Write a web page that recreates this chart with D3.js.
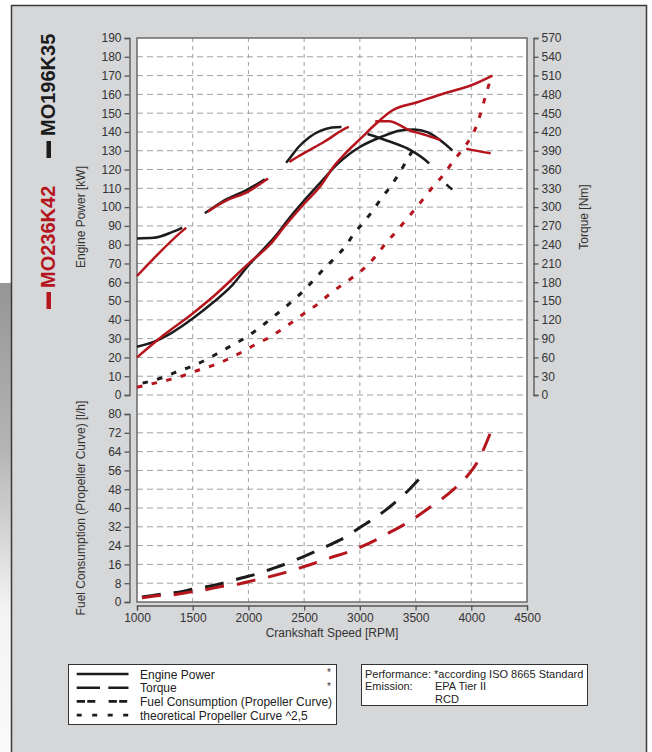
<!DOCTYPE html>
<html>
<head>
<meta charset="utf-8">
<script src="https://cdn.jsdelivr.net/npm/d3@7"></script>
<style>
    body { margin: 0; background: #fff; }
    text { font-family: "Liberation Sans", Arial, sans-serif; }
</style>
</head>
<body>
<script>
//engine performance chart, two engines (black MO196K35, red MO236K42)

//shared crankshaft speed axis
var rpmTicks = [1000, 1500, 2000, 2500, 3000, 3500, 4000, 4500];
var powerTicks = d3.range(0, 191, 10);     //kW
var torqueTicks = d3.range(0, 571, 30);    //Nm
var fuelTicks = d3.range(0, 81, 8);        //l/h

//MO196K35 (black) - engine power [kW]
var blackPowerRpm = [1000, 1150, 1300, 1500, 1690, 1840, 2000, 2140, 2260, 2350, 2500, 2650, 2800, 2900, 3000, 3190, 3365, 3485, 3605, 3725, 3830];
var blackPowerKw  = [25.7, 28.3, 32.7, 40.7, 49.6, 57.5, 69, 77.9, 85.8, 92.9, 103.5, 113.3, 123, 128, 132, 137.3, 140.8, 141.3, 139.9, 135.5, 130.2];

//MO236K42 (red) - engine power [kW]
var redPowerRpm = [1000, 1240, 1500, 1690, 2000, 2200, 2320, 2500, 2650, 2770, 2860, 3006, 3156, 3290, 3515, 3784, 3994, 4190];
var redPowerKw  = [20, 31.9, 43.4, 52.7, 69.9, 80.5, 89.4, 101.8, 111.5, 122, 128, 136.4, 145, 151.4, 155.8, 161, 164.7, 170];

//torque [Nm]
var blackTorqueRpm = [1000, 1150, 1314, 1404, 1614, 1809, 1990, 2170, 2344, 2450, 2550, 2650, 2750, 2830, 2900, 3081, 3246, 3455, 3620, 3700, 3784, 3830];
var blackTorqueNm  = [250, 251, 260, 267, 291, 313, 328, 347, 372, 396, 412, 422, 427, 428, 426, 416, 406, 391, 370, 354, 335, 328];
var redTorqueRpm = [1000, 1434, 1629, 1809, 1990, 2170, 2374, 2467, 2677, 2901, 3050, 3156, 3260, 3455, 3575, 3725, 3850, 3964, 4174];
var redTorqueNm  = [190, 266, 292, 311, 324, 345, 373, 383, 404, 428, 434, 437, 437, 422, 416, 407, 399, 393, 386];

//theoretical propeller curve ^2,5 [kW]
var blackPropRpm = [1050, 1224, 1359, 1479, 1614, 1734, 1839, 1959, 2080, 2185, 2290, 2395, 2500, 2590, 2680, 2785, 2875, 2946, 3036, 3120, 3200, 3275, 3356, 3425, 3509];
var blackPropKw  = [6.3, 9.2, 12.4, 15, 18.6, 22.5, 26, 30, 34.9, 39.8, 44.8, 50, 55.8, 61.4, 67.3, 73.5, 79.5, 85.8, 92, 98.5, 105.2, 111, 118.3, 125.3, 133.7];
var redPropRpm = [1000, 1150, 1300, 1420, 1554, 1689, 1809, 1930, 2050, 2170, 2290, 2395, 2500, 2620, 2725, 2830, 2940, 3051, 3141, 3225, 3314, 3404, 3494, 3581, 3665, 3749, 3829, 3919, 3994, 4054, 4093, 4129, 4183];
var redPropKw  = [4.1, 6.2, 8.3, 10.4, 13.3, 15.9, 18.9, 22.5, 26.5, 30.1, 34.5, 38.9, 43.4, 48.3, 53.5, 58.2, 62.8, 68.1, 73.8, 80.2, 86.2, 92.4, 98.8, 105.2, 111.5, 117, 123.7, 130.5, 136.9, 144.3, 151.8, 159.4, 170];

//fuel consumption (propeller curve) [l/h]
var blackFuelRpm = [1044, 1239, 1374, 1524, 1659, 1809, 1944, 2080, 2215, 2356, 2485, 2620, 2740, 2884, 3000, 3126, 3231, 3350, 3446, 3551];
var blackFuelLh  = [2.1, 3.5, 4.2, 5.7, 6.8, 8.5, 10.3, 12, 14.2, 16.6, 19.1, 21.9, 24.5, 28, 31.7, 35.5, 39.1, 43.8, 48, 53.3];
var redFuelRpm = [1044, 1209, 1329, 1479, 1614, 1764, 1899, 2050, 2176, 2326, 2455, 2605, 2731, 2880, 3000, 3141, 3260, 3389, 3506, 3635, 3740, 3859, 3958, 4048, 4108, 4168];
var redFuelLh  = [1.8, 2.8, 3.1, 4.2, 5.2, 6.7, 7.5, 9.2, 10.6, 12.5, 14.4, 16.7, 18.8, 21, 23.2, 26.3, 29.4, 32.7, 36.2, 40.5, 44, 48.7, 53.3, 59, 64.7, 71.5];

//engine names and legend texts
var engineNames = ["MO196K35", "MO236K42"];
var legendLabels = ["Engine Power", "Torque", "Fuel Consumption (Propeller Curve)", "theoretical Propeller Curve ^2,5"];
var noteLines = ["Performance: *according ISO 8665 Standard", "Emission:", "EPA Tier II", "RCD"];

window.onload = function(){

    var w = 652, h = 752;
    var black = "#1c1c1c", red = "#b5161e";

    var svg = d3.select("body")
        .append("svg")
        .attr("width", w)
        .attr("height", h);

    //grey photo strip on the far left
    var grad = svg.append("defs").append("linearGradient")
        .attr("id", "strip")
        .attr("x1", 0).attr("y1", 0).attr("x2", 0).attr("y2", 1);
    grad.append("stop").attr("offset", 0).attr("stop-color", "#969696");
    grad.append("stop").attr("offset", 0.35).attr("stop-color", "#b4b4b4");
    grad.append("stop").attr("offset", 0.55).attr("stop-color", "#d8d8d8");
    grad.append("stop").attr("offset", 0.7).attr("stop-color", "#f4f4f4");
    grad.append("stop").attr("offset", 1).attr("stop-color", "#fafafa");
    svg.append("rect")
        .attr("x", 0).attr("y", 283)
        .attr("width", 12).attr("height", h - 283)
        .style("fill", "url(#strip)");

    //grey panel
    svg.append("rect")
        .attr("x", 11.5).attr("y", 5.5)
        .attr("width", 635).attr("height", 770)
        .style("fill", "#d6d7d9")
        .style("stroke", "#3a3a3a")
        .style("stroke-width", 1.5);

    //scales
    var x = d3.scaleLinear().domain([1000, 4500]).range([137, 527]);
    var yP = d3.scaleLinear().domain([0, 190]).range([395, 38]);
    var yT = d3.scaleLinear().domain([0, 570]).range([395, 38]);
    var yF = d3.scaleLinear().domain([0, 80]).range([602, 414]);

    //white plot area
    svg.append("rect")
        .attr("x", x(1000)).attr("y", yP(190))
        .attr("width", x(4500) - x(1000))
        .attr("height", yF(0) - yP(190))
        .style("fill", "#fff");

    //grid lines
    var grid = svg.append("g").attr("class", "grid")
        .style("stroke", "#a0a0a0")
        .style("stroke-width", 1)
        .style("fill", "none");

    grid.selectAll(".vgrid")
        .data(rpmTicks.slice(1, -1))
        .enter()
        .append("line")
        .attr("x1", function(d){ return x(d); })
        .attr("x2", function(d){ return x(d); })
        .attr("y1", yP(190))
        .attr("y2", yF(0))
        .style("stroke-dasharray", "4 4");

    grid.selectAll(".pgrid")
        .data(powerTicks.slice(0, -1))
        .enter()
        .append("line")
        .attr("x1", x(1000)).attr("x2", x(4500))
        .attr("y1", function(d){ return yP(d); })
        .attr("y2", function(d){ return yP(d); })
        .style("stroke-dasharray", "6 4");

    grid.selectAll(".fgrid")
        .data(fuelTicks.slice(1))
        .enter()
        .append("line")
        .attr("x1", x(1000)).attr("x2", x(4500))
        .attr("y1", function(d){ return yF(d); })
        .attr("y2", function(d){ return yF(d); })
        .style("stroke-dasharray", "6 4");

    //plot frame
    svg.append("rect")
        .attr("x", x(1000)).attr("y", yP(190))
        .attr("width", x(4500) - x(1000))
        .attr("height", yF(0) - yP(190))
        .style("fill", "none")
        .style("stroke", "#6a6a6a")
        .style("stroke-width", 1.5);

    //curves
    var line = function(scale){
        return d3.line()
            .x(function(d){ return x(d[0]); })
            .y(function(d){ return scale(d[1]); })
            .curve(d3.curveMonotoneX);
    };

    var curves = [
        {rpm: blackPowerRpm, val: blackPowerKw, y: yP, color: black, dash: null, off: 0, sw: 2.5},
        {rpm: redPowerRpm, val: redPowerKw, y: yP, color: red, dash: null, off: 0, sw: 2.5},
        {rpm: blackTorqueRpm, val: blackTorqueNm, y: yT, color: black, dash: "69 27", off: 22, sw: 2.5},
        {rpm: redTorqueRpm, val: redTorqueNm, y: yT, color: red, dash: "69 27", off: 0, sw: 2.5},
        {rpm: blackPropRpm, val: blackPropKw, y: yP, color: black, dash: "5.5 9.5", off: 0, sw: 3},
        {rpm: redPropRpm, val: redPropKw, y: yP, color: red, dash: "5.5 9.5", off: 0, sw: 3},
        {rpm: blackFuelRpm, val: blackFuelLh, y: yF, color: black, dash: "19 13", off: 0, sw: 3},
        {rpm: redFuelRpm, val: redFuelLh, y: yF, color: red, dash: "19 13", off: 0, sw: 3}
    ];

    svg.selectAll(".curve")
        .data(curves)
        .enter()
        .append("path")
        .attr("class", "curve")
        .attr("d", function(d){ return line(d.y)(d3.zip(d.rpm, d.val)); })
        .style("fill", "none")
        .style("stroke", function(d){ return d.color; })
        .style("stroke-width", function(d){ return d.sw; })
        .style("stroke-dasharray", function(d){ return d.dash; })
        .style("stroke-dashoffset", function(d){ return d.off; });

    //axes
    var styleAxis = function(g){
        g.selectAll("path, line").style("stroke", "#555").style("stroke-width", 1.3);
        g.selectAll("text")
            .style("font-family", "'Liberation Sans', Arial, sans-serif")
            .style("font-size", "12px")
            .style("fill", "#333");
    };

    svg.append("g")
        .attr("transform", "translate(129.5,0)")
        .call(d3.axisLeft(yP).tickValues(powerTicks).tickSize(5).tickPadding(3))
        .call(styleAxis);

    svg.append("g")
        .attr("transform", "translate(129.5,0)")
        .call(d3.axisLeft(yF).tickValues(fuelTicks).tickSize(5).tickPadding(3))
        .call(styleAxis);

    svg.append("g")
        .attr("transform", "translate(533.5,0)")
        .call(d3.axisRight(yT).tickValues(torqueTicks).tickSize(5).tickPadding(3))
        .call(styleAxis);

    svg.append("g")
        .attr("transform", "translate(0,605.5)")
        .call(d3.axisBottom(x).tickValues(rpmTicks).tickSize(5).tickPadding(3).tickFormat(d3.format("d")))
        .call(styleAxis);

    //axis titles
    var titles = [
        {t: "Engine Power [kW]", x: 85, y: 217, r: -90},
        {t: "Torque [Nm]", x: 588, y: 217, r: -90},
        {t: "Fuel Consumption (Propeller Curve) [l/h]", x: 85, y: 508, r: -90},
        {t: "Crankshaft Speed [RPM]", x: 332, y: 637, r: 0}
    ];
    svg.selectAll(".axisTitle")
        .data(titles)
        .enter()
        .append("text")
        .attr("class", "axisTitle")
        .attr("transform", function(d){ return "translate(" + d.x + "," + d.y + ") rotate(" + d.r + ")"; })
        .attr("text-anchor", "middle")
        .style("font-size", "12px")
        .style("fill", "#333")
        .text(function(d){ return d.t; });

    //engine names, written upwards with a colour bar
    var names = [
        {t: engineNames[0], c: black, y: 136, bar: 141},
        {t: engineNames[1], c: red, y: 288, bar: 292}
    ];
    svg.selectAll(".nameBar")
        .data(names)
        .enter()
        .append("rect")
        .attr("x", 46.5).attr("width", 4.5)
        .attr("y", function(d){ return d.bar; })
        .attr("height", 17)
        .style("fill", function(d){ return d.c; });
    svg.selectAll(".name")
        .data(names)
        .enter()
        .append("text")
        .attr("transform", function(d){ return "translate(55," + d.y + ") rotate(-90)"; })
        .style("font-size", "20px")
        .style("font-weight", "bold")
        .style("fill", function(d){ return d.c; })
        .text(function(d){ return d.t; });

    //legend box for line styles
    var legend = svg.append("g").attr("class", "legend");
    legend.append("rect")
        .attr("x", 68.5).attr("y", 664.5)
        .attr("width", 268).attr("height", 60)
        .style("fill", "#fff")
        .style("stroke", "#333")
        .style("stroke-width", 1);

    var legendDash = ["none", "23.3 8.3", "8.3 2.3 8 13.3", "5 10.5"];
    legend.selectAll(".lgLine")
        .data(legendLabels)
        .enter()
        .append("line")
        .attr("x1", 76.7).attr("x2", 128.5)
        .attr("y1", function(d, i){ return 674 + i * 13.7; })
        .attr("y2", function(d, i){ return 674 + i * 13.7; })
        .style("stroke", "#1c1c1c")
        .style("stroke-width", 2.6)
        .style("stroke-dasharray", function(d, i){ return legendDash[i]; });

    legend.selectAll(".lgText")
        .data(legendLabels)
        .enter()
        .append("text")
        .attr("x", 140)
        .attr("y", function(d, i){ return 678.5 + i * 13.7; })
        .style("font-size", "12px")
        .style("fill", "#222")
        .text(function(d){ return d; });

    legend.selectAll(".star")
        .data([0, 1])
        .enter()
        .append("text")
        .attr("x", 329)
        .attr("y", function(d){ return 676 + d * 13.7; })
        .attr("text-anchor", "middle")
        .style("font-size", "10px")
        .style("fill", "#333")
        .text("*");

    //notes box
    var notes = svg.append("g").attr("class", "notes");
    notes.append("rect")
        .attr("x", 361.5).attr("y", 664.5)
        .attr("width", 226).attr("height", 41)
        .style("fill", "#fff")
        .style("stroke", "#333")
        .style("stroke-width", 1);

    var notePos = [[365, 677.5], [365, 690], [435, 690], [435, 702.5]];
    notes.selectAll("text")
        .data(noteLines)
        .enter()
        .append("text")
        .attr("x", function(d, i){ return notePos[i][0]; })
        .attr("y", function(d, i){ return notePos[i][1]; })
        .style("font-size", "11px")
        .style("fill", "#222")
        .text(function(d){ return d; });
};
</script>
</body>
</html>
